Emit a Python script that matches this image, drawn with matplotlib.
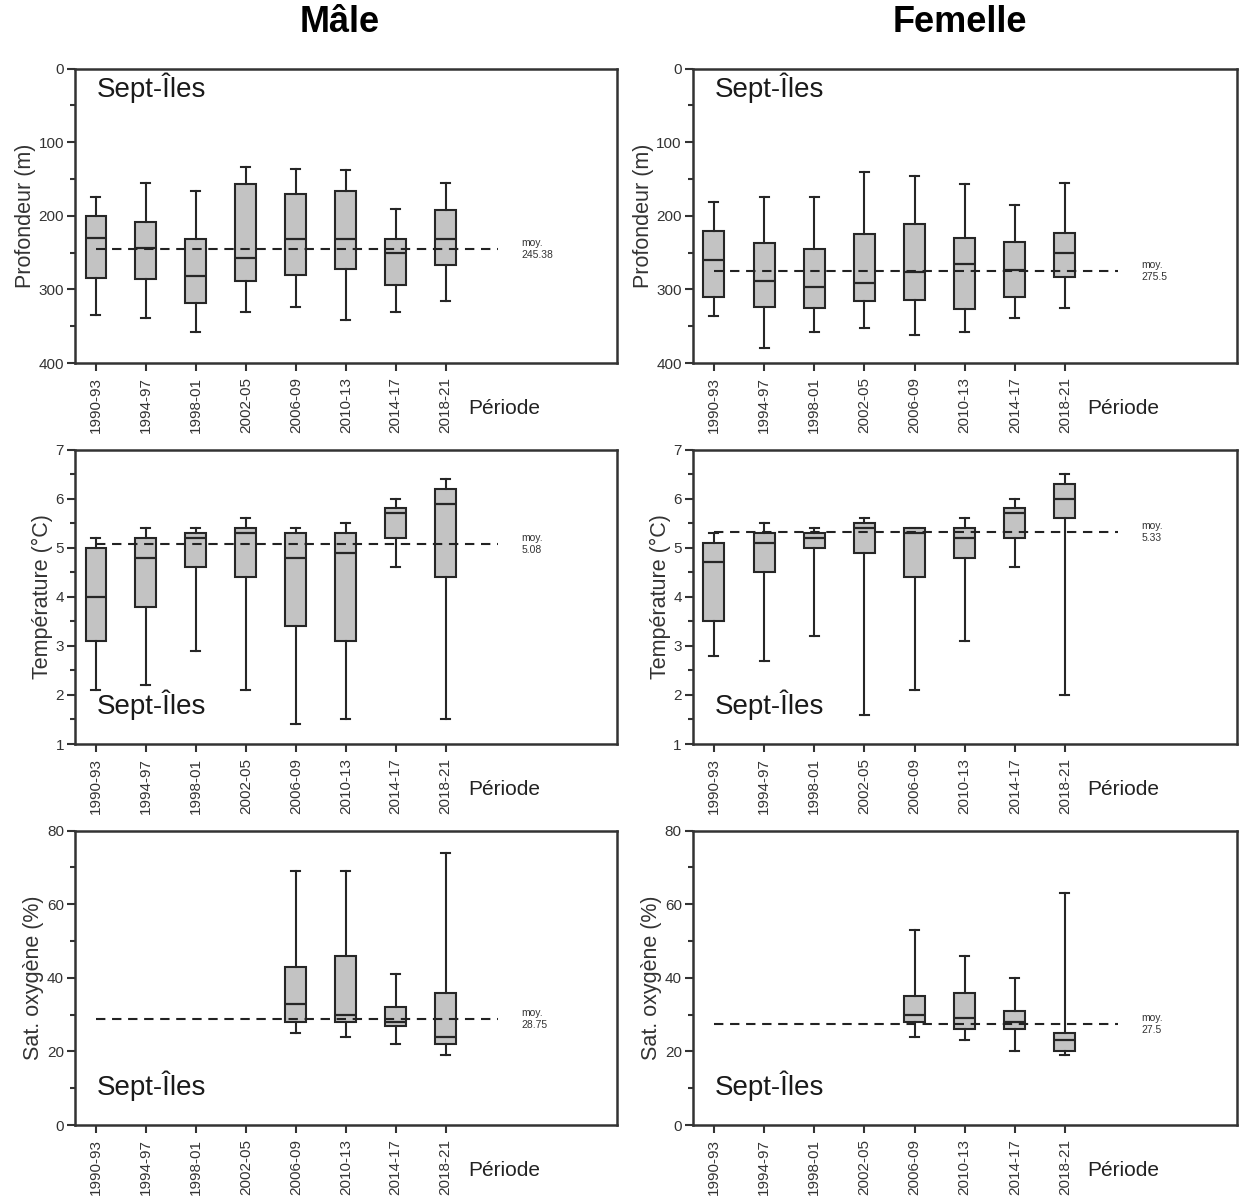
import matplotlib
matplotlib.use('Agg')
import matplotlib.pyplot as plt
from matplotlib.ticker import MultipleLocator

plt.rcParams['font.family'] = ['Liberation Sans', 'DejaVu Sans']

periods = ['1990-93', '1994-97', '1998-01', '2002-05', '2006-09', '2010-13', '2014-17', '2018-21']

# Profondeur (m): whisker low/high = min/max, q1/q3 box, median
prof_m_wlo = [175, 155, 167, 134, 137, 138, 191, 155]
prof_m_q1 = [201, 208, 232, 157, 171, 167, 231, 192]
prof_m_med = [230, 244, 282, 258, 231, 232, 250, 232]
prof_m_q3 = [284, 286, 319, 289, 281, 272, 294, 267]
prof_m_whi = [335, 339, 358, 331, 324, 342, 331, 316]
prof_m_mean = 245.38

prof_f_wlo = [181, 174, 174, 141, 146, 157, 185, 155]
prof_f_q1 = [221, 237, 245, 225, 211, 230, 235, 224]
prof_f_med = [260, 289, 297, 291, 276, 266, 274, 250]
prof_f_q3 = [310, 324, 325, 316, 314, 326, 311, 283]
prof_f_whi = [336, 380, 358, 352, 362, 358, 339, 325]
prof_f_mean = 275.5

# Température (°C)
temp_m_wlo = [2.1, 2.2, 2.9, 2.1, 1.4, 1.5, 4.6, 1.5]
temp_m_q1 = [3.1, 3.8, 4.6, 4.4, 3.4, 3.1, 5.2, 4.4]
temp_m_med = [4.0, 4.8, 5.2, 5.3, 4.8, 4.9, 5.7, 5.9]
temp_m_q3 = [5.0, 5.2, 5.3, 5.4, 5.3, 5.3, 5.8, 6.2]
temp_m_whi = [5.2, 5.4, 5.4, 5.6, 5.4, 5.5, 6.0, 6.4]
temp_m_mean = 5.08

temp_f_wlo = [2.8, 2.7, 3.2, 1.6, 2.1, 3.1, 4.6, 2.0]
temp_f_q1 = [3.5, 4.5, 5.0, 4.9, 4.4, 4.8, 5.2, 5.6]
temp_f_med = [4.7, 5.1, 5.2, 5.4, 5.3, 5.2, 5.7, 6.0]
temp_f_q3 = [5.1, 5.3, 5.3, 5.5, 5.4, 5.4, 5.8, 6.3]
temp_f_whi = [5.3, 5.5, 5.4, 5.6, 5.4, 5.6, 6.0, 6.5]
temp_f_mean = 5.33

# Sat. oxygène (%) - no data before 2006-09
oxy_m_wlo = [None, None, None, None, 25, 24, 22, 19]
oxy_m_q1 = [None, None, None, None, 28, 28, 27, 22]
oxy_m_med = [None, None, None, None, 33, 30, 28, 24]
oxy_m_q3 = [None, None, None, None, 43, 46, 32, 36]
oxy_m_whi = [None, None, None, None, 69, 69, 41, 74]
oxy_m_mean = 28.75

oxy_f_wlo = [None, None, None, None, 24, 23, 20, 19]
oxy_f_q1 = [None, None, None, None, 28, 26, 26, 20]
oxy_f_med = [None, None, None, None, 30, 29, 28, 23]
oxy_f_q3 = [None, None, None, None, 35, 36, 31, 25]
oxy_f_whi = [None, None, None, None, 53, 46, 40, 63]
oxy_f_mean = 27.5


def make_stats(wlo, q1, med, q3, whi):
    stats, pos = [], []
    for i in range(len(periods)):
        if med[i] is None:
            continue
        lo, hi = sorted([wlo[i], whi[i]])
        stats.append({'whislo': lo, 'q1': q1[i], 'med': med[i], 'q3': q3[i],
                      'whishi': hi, 'fliers': []})
        pos.append(i + 1)
    return stats, pos


def draw(ax, data, mean, ylabel, ylim, major, minor, invert, label_top):
    stats, pos = make_stats(*data)
    col = '#262626'
    ax.bxp(stats, positions=pos, widths=0.42, showfliers=False, patch_artist=True,
           boxprops=dict(facecolor='#c3c3c3', edgecolor=col, linewidth=1.5),
           whiskerprops=dict(color=col, linewidth=1.5),
           capprops=dict(color=col, linewidth=1.5),
           medianprops=dict(color=col, linewidth=1.6),
           capwidths=0.18)
    ax.plot([1, 9.05], [mean, mean], color='#222222', linestyle=(0, (4.5, 3.2)),
            linewidth=1.5, zorder=5)
    ax.text(9.52, mean, f'moy.\n{mean:g}', fontsize=7.5, color='#333333',
            va='center', ha='left', linespacing=1.25)
    ax.set_xlim(0.58, 11.43)
    if invert:
        ax.set_ylim(ylim[1], ylim[0])
    else:
        ax.set_ylim(ylim[0], ylim[1])
    ax.yaxis.set_major_locator(MultipleLocator(major))
    ax.yaxis.set_minor_locator(MultipleLocator(minor))
    ax.set_xticks(range(1, 9))
    ax.set_xticklabels(periods, rotation=90, fontsize=11, color='#333333')
    ax.tick_params(axis='y', which='major', length=6, width=1.5, labelsize=11,
                   colors='#333333', pad=2)
    ax.tick_params(axis='y', which='minor', length=3.5, width=1.5, colors='#333333')
    ax.tick_params(axis='x', length=6, width=1.5, colors='#333333', pad=4)
    ax.tick_params(axis='x', labelcolor='#333333')
    for s in ax.spines.values():
        s.set_linewidth(1.8)
        s.set_color('#333333')
    ax.set_ylabel(ylabel, fontsize=15.5, color='#333333', labelpad=2)
    ax.text(8.45, -0.155, 'Période', transform=ax.get_xaxis_transform(),
            fontsize=15, color='#222222', ha='left', va='center')
    if label_top:
        ax.text(0.04, 0.935, 'Sept-Îles', transform=ax.transAxes, fontsize=20,
                color='#1a1a1a', ha='left', va='center')
    else:
        ax.text(0.04, 0.132, 'Sept-Îles', transform=ax.transAxes, fontsize=20,
                color='#1a1a1a', ha='left', va='center')


fig = plt.figure(figsize=(12.44, 12.02), dpi=100)
lefts = [0.0603, 0.557]
widths = [0.4357, 0.4373]
bottoms = [0.698, 0.381, 0.064]
height = 0.2450

panels = [
    [(prof_m_wlo, prof_m_q1, prof_m_med, prof_m_q3, prof_m_whi), prof_m_mean],
    [(prof_f_wlo, prof_f_q1, prof_f_med, prof_f_q3, prof_f_whi), prof_f_mean],
    [(temp_m_wlo, temp_m_q1, temp_m_med, temp_m_q3, temp_m_whi), temp_m_mean],
    [(temp_f_wlo, temp_f_q1, temp_f_med, temp_f_q3, temp_f_whi), temp_f_mean],
    [(oxy_m_wlo, oxy_m_q1, oxy_m_med, oxy_m_q3, oxy_m_whi), oxy_m_mean],
    [(oxy_f_wlo, oxy_f_q1, oxy_f_med, oxy_f_q3, oxy_f_whi), oxy_f_mean],
]
row_cfg = [
    ('Profondeur (m)', (0, 400), 100, 50, True, True),
    ('Température (°C)', (1, 7), 1, 0.5, False, False),
    ('Sat. oxygène (%)', (0, 80), 20, 10, False, False),
]

for r in range(3):
    for c in range(2):
        ax = fig.add_axes([lefts[c], bottoms[r], widths[c], height])
        data, mean = panels[r * 2 + c]
        ylabel, ylim, major, minor, invert, top = row_cfg[r]
        draw(ax, data, mean, ylabel, ylim, major, minor, invert, top)

fig.text(0.273, 0.981, 'Mâle', fontsize=26, fontweight='bold', ha='center', va='center')
fig.text(0.772, 0.981, 'Femelle', fontsize=26, fontweight='bold', ha='center', va='center')

fig.savefig('out.png', dpi=100)
